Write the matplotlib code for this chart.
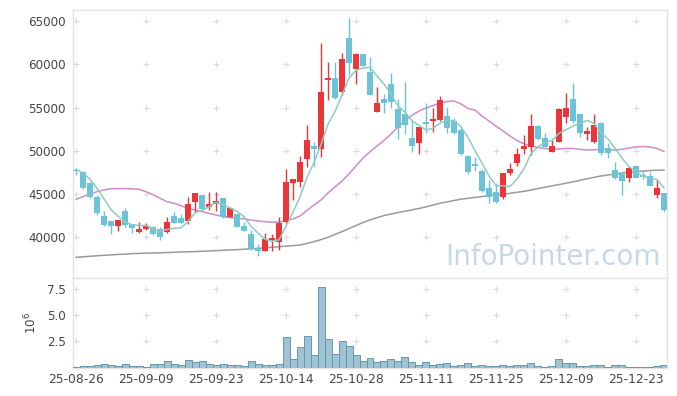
import matplotlib
matplotlib.use("Agg")
import matplotlib.pyplot as plt
import numpy as np

# ---------------- data ----------------
tick_labels = ['25-08-26', '25-09-09', '25-09-23', '25-10-14', '25-10-28',
               '25-11-11', '25-11-25', '25-12-09', '25-12-23']

opens = [47750, 47600, 46330, 44700, 42480, 41950, 41330, 43060, 41560, 40670,
         41020, 41250, 40950, 40600, 42480, 42220, 41940, 44060, 44910, 43490,
         43870, 44530, 42400, 42680, 41330, 40370, 38830, 38480, 39750, 39450,
         41830, 46330, 46370, 49060, 50570, 50180, 58190, 58380, 56770, 63000,
         59420, 61190, 59150, 54530, 55960, 57720, 54800, 54260, 51450, 50880,
         53340, 53490, 53570, 54030, 53450, 52410, 49410, 48490, 47680, 45680,
         45220, 44640, 47480, 48570, 50250, 50480, 52870, 51450, 49910, 51060,
         53950, 55990, 54260, 51950, 51060, 53260, 50300, 47790, 47300, 46910,
         48260, 47220, 47140, 44910, 45100]
highs = [47800, 47700, 46450, 44900, 43000, 41950, 42050, 43370, 41600, 41830,
         41640, 41330, 41170, 42400, 42980, 42680, 44710, 45100, 44950, 45220,
         45220, 44600, 43450, 42700, 41830, 40870, 39210, 40480, 40370, 42400,
         47870, 46800, 49410, 52990, 50990, 62420, 60300, 60300, 61340, 65310,
         61300, 61190, 60880, 57410, 56540, 59030, 55960, 57990, 53570, 52720,
         55500, 54920, 56340, 55100, 53830, 52800, 49500, 49330, 47900, 46640,
         46330, 47450, 48570, 50300, 51840, 54260, 52950, 52030, 51260, 54900,
         56720, 57800, 54300, 52790, 54260, 53340, 50880, 48760, 47450, 48260,
         48330, 47710, 47600, 46720, 45100]
lows = [47200, 45650, 44550, 42600, 41350, 40400, 40750, 41250, 40480, 40480,
        40870, 40300, 39710, 40550, 41650, 41650, 41560, 42980, 43200, 43180,
        43060, 42300, 42350, 41200, 40700, 38600, 37870, 38400, 38480, 38560,
        41700, 44330, 45870, 48180, 48180, 49330, 55880, 56000, 56450, 58760,
        57720, 59800, 56400, 54450, 54340, 54920, 51340, 51950, 49910, 49610,
        52030, 52150, 53500, 52030, 51950, 49550, 47300, 47710, 45300, 43950,
        43950, 44500, 47220, 48260, 49610, 49530, 51250, 50400, 49900, 51000,
        53190, 53260, 51640, 51260, 50880, 49530, 49140, 46750, 44910, 46370,
        46830, 46800, 45900, 44530, 42980]
closes = [47650, 45750, 44710, 42800, 41440, 41350, 42020, 41440, 41130, 40980,
          41330, 40400, 40020, 41830, 41710, 41710, 43870, 45100, 43260, 43870,
          44210, 42400, 43370, 41250, 40790, 38670, 38480, 39790, 39980, 41710,
          46370, 46720, 48680, 51260, 50180, 56840, 58450, 56070, 60580, 60190,
          61190, 59840, 56450, 55570, 55500, 55680, 52680, 52990, 50600, 52720,
          53070, 53680, 55880, 52610, 52100, 49610, 47600, 48260, 45400, 44640,
          44130, 47410, 47910, 49640, 50570, 52870, 51370, 50480, 50570, 54800,
          54990, 53490, 52030, 52300, 52990, 49720, 49790, 46830, 46560, 47990,
          46910, 46950, 45950, 45680, 43180]
ma5 = [47910, 47410, 46720, 45680, 44470, 43210, 42464, 41810, 41476, 41384,
       41380, 41056, 40772, 40912, 41058, 41134, 41828, 42844, 43130, 43562,
       44062, 43768, 43422, 43020, 42404, 41296, 40512, 39796, 39542, 39726,
       41266, 42914, 44692, 46948, 48642, 50736, 53082, 54560, 56424, 58426,
       59296, 59574, 59650, 58648, 57710, 56608, 55176, 54484, 53490, 52934,
       52412, 52612, 53190, 53592, 53468, 52776, 51560, 50036, 48594, 47102,
       46006, 45968, 45898, 46746, 47932, 49680, 50472, 50986, 51172, 52018,
       52442, 52866, 53176, 53522, 53160, 52106, 51366, 50326, 49178, 48178,
       47616, 47048, 46872, 46696, 45734]
ma20 = [44410, 44710, 45020, 45290, 45480, 45640, 45640, 45640, 45620, 45560,
        45290, 44940, 44530, 44130, 43950, 43670, 43370, 43180, 42980, 42790,
        42600, 42400, 42290, 42220, 42140, 42020, 41900, 41830, 41760, 41790,
        41900, 42140, 42480, 43120, 43750, 44330, 45140, 45830, 46520, 47330,
        48260, 49180, 49910, 50570, 51200, 51950, 52760, 53510, 54090, 54610,
        54950, 55240, 55530, 55700, 55760, 55420, 54900, 54710, 54030, 53450,
        52870, 52300, 51720, 51200, 50800, 50570, 50390, 50280, 50180, 50220,
        50280, 50280, 50180, 50100, 50130, 50180, 50160, 50100, 50180, 50330,
        50450, 50510, 50450, 50280, 49930]
ma60 = [37710, 37770, 37830, 37890, 37940, 37990, 38040, 38080, 38130, 38160,
        38190, 38210, 38230, 38260, 38290, 38320, 38350, 38370, 38410, 38440,
        38480, 38520, 38560, 38590, 38640, 38700, 38750, 38810, 38870, 38930,
        39000, 39050, 39130, 39310, 39520, 39750, 40020, 40350, 40680, 41030,
        41370, 41730, 42020, 42290, 42530, 42710, 42880, 43030, 43190, 43350,
        43530, 43750, 43950, 44110, 44270, 44420, 44520, 44630, 44720, 44830,
        44920, 44990, 45100, 45220, 45330, 45480, 45650, 45800, 45960, 46110,
        46270, 46430, 46600, 46780, 46950, 47100, 47220, 47330, 47450, 47540,
        47610, 47670, 47730, 47760, 47790]
volume_m = [0.10, 0.19, 0.19, 0.28, 0.38, 0.28, 0.19, 0.38, 0.19, 0.19,
            0.10, 0.38, 0.38, 0.66, 0.38, 0.28, 0.76, 0.57, 0.66, 0.38,
            0.28, 0.38, 0.28, 0.28, 0.19, 0.66, 0.38, 0.28, 0.28, 0.38,
            2.94, 0.85, 1.99, 3.04, 1.23, 7.69, 2.75, 1.33, 2.56, 2.09,
            1.23, 0.66, 0.95, 0.57, 0.66, 0.85, 0.66, 1.04, 0.57, 0.28,
            0.57, 0.28, 0.38, 0.47, 0.19, 0.28, 0.47, 0.19, 0.28, 0.19,
            0.19, 0.28, 0.19, 0.28, 0.28, 0.47, 0.19, 0.10, 0.19, 0.85,
            0.47, 0.47, 0.19, 0.19, 0.28, 0.28, 0.10, 0.28, 0.28, 0.10,
            0.10, 0.10, 0.10, 0.19, 0.28]
price_ticks = [40000, 45000, 50000, 55000, 60000, 65000]
vol_ticks = [2.5, 5.0, 7.5]

# ---------------- style ----------------
UP = '#ec3539'
DOWN = '#6cc3d8'
GRID = '#dadada'
SPINE = '#e3e3e3'
TXT = '#444444'

plt.rcParams['font.family'] = ['DejaVu Sans']

fig = plt.figure(figsize=(6.77, 3.96), dpi=100)
W, H = 677, 396
L, R = 73 / W, 667 / W
ax = fig.add_axes([L, 1 - 278 / H, R - L, (278 - 10) / H])
axv = fig.add_axes([L, 1 - 367.6 / H, R - L, (367.6 - 278) / H], sharex=ax)

n = len(closes)
x = np.arange(n)
o = np.array(opens); c = np.array(closes); h = np.array(highs); l = np.array(lows)
up = c >= o
cols = np.where(up, UP, DOWN)

# wicks and bodies
ax.vlines(x, l, h, colors=cols, linewidth=1.0, zorder=3)
bottoms = np.minimum(o, c)
heights = np.maximum(np.abs(c - o), 60)
ax.bar(x, heights, bottom=bottoms, width=0.72, color=cols, linewidth=0, zorder=4)

# moving averages
ax.plot(x, ma60, color='#9a9a9a', lw=1.1, zorder=2)
ax.plot(x, ma20, color='#cf8cc6', lw=1.1, zorder=2)
ax.plot(x, ma5, color='#8acdc3', lw=1.1, zorder=5)

# volume
axv.bar(x, volume_m, width=1.0, color='#a0c3d3', edgecolor='#6497b0', linewidth=0.7, zorder=3)

xticks = list(range(0, n, 10))
ax.set_xlim(-0.43, n - 1 + 0.43)
ax.set_ylim(35320, 66270)
axv.set_ylim(0, 8.52)

# plus-shaped grid marks
gx, gy = np.meshgrid(xticks, price_ticks)
ax.scatter(gx.ravel(), gy.ravel(), marker='+', s=18, color=GRID, linewidths=0.8, zorder=1)
gx2, gy2 = np.meshgrid(xticks, vol_ticks)
axv.scatter(gx2.ravel(), gy2.ravel(), marker='+', s=18, color=GRID, linewidths=0.8, zorder=1)

ax.set_yticks(price_ticks)
ax.set_yticklabels([str(v) for v in price_ticks])
ax.tick_params(axis='x', bottom=False, labelbottom=False)
ax.tick_params(axis='y', length=0, pad=5, labelsize=8.6, labelcolor=TXT)

axv.set_yticks(vol_ticks)
axv.set_yticklabels(['2.5', '5.0', '7.5'])
axv.set_xticks(xticks)
axv.set_xticklabels(tick_labels)
axv.tick_params(axis='y', length=0, pad=5, labelsize=8.6, labelcolor=TXT)
axv.tick_params(axis='x', length=0, pad=4, labelsize=8.8, labelcolor=TXT)
axv.set_ylabel(r'$10^6$', fontsize=8.6, color=TXT, labelpad=6)

for a in (ax, axv):
    for s in a.spines.values():
        s.set_color(SPINE)
        s.set_linewidth(1.0)

ax.text(0.99, 0.08, 'InfoPointer.com', transform=ax.transAxes, ha='right', va='center',
        fontsize=20, color='#c6d9e5', zorder=0)

fig.savefig('out.png', dpi=100)
